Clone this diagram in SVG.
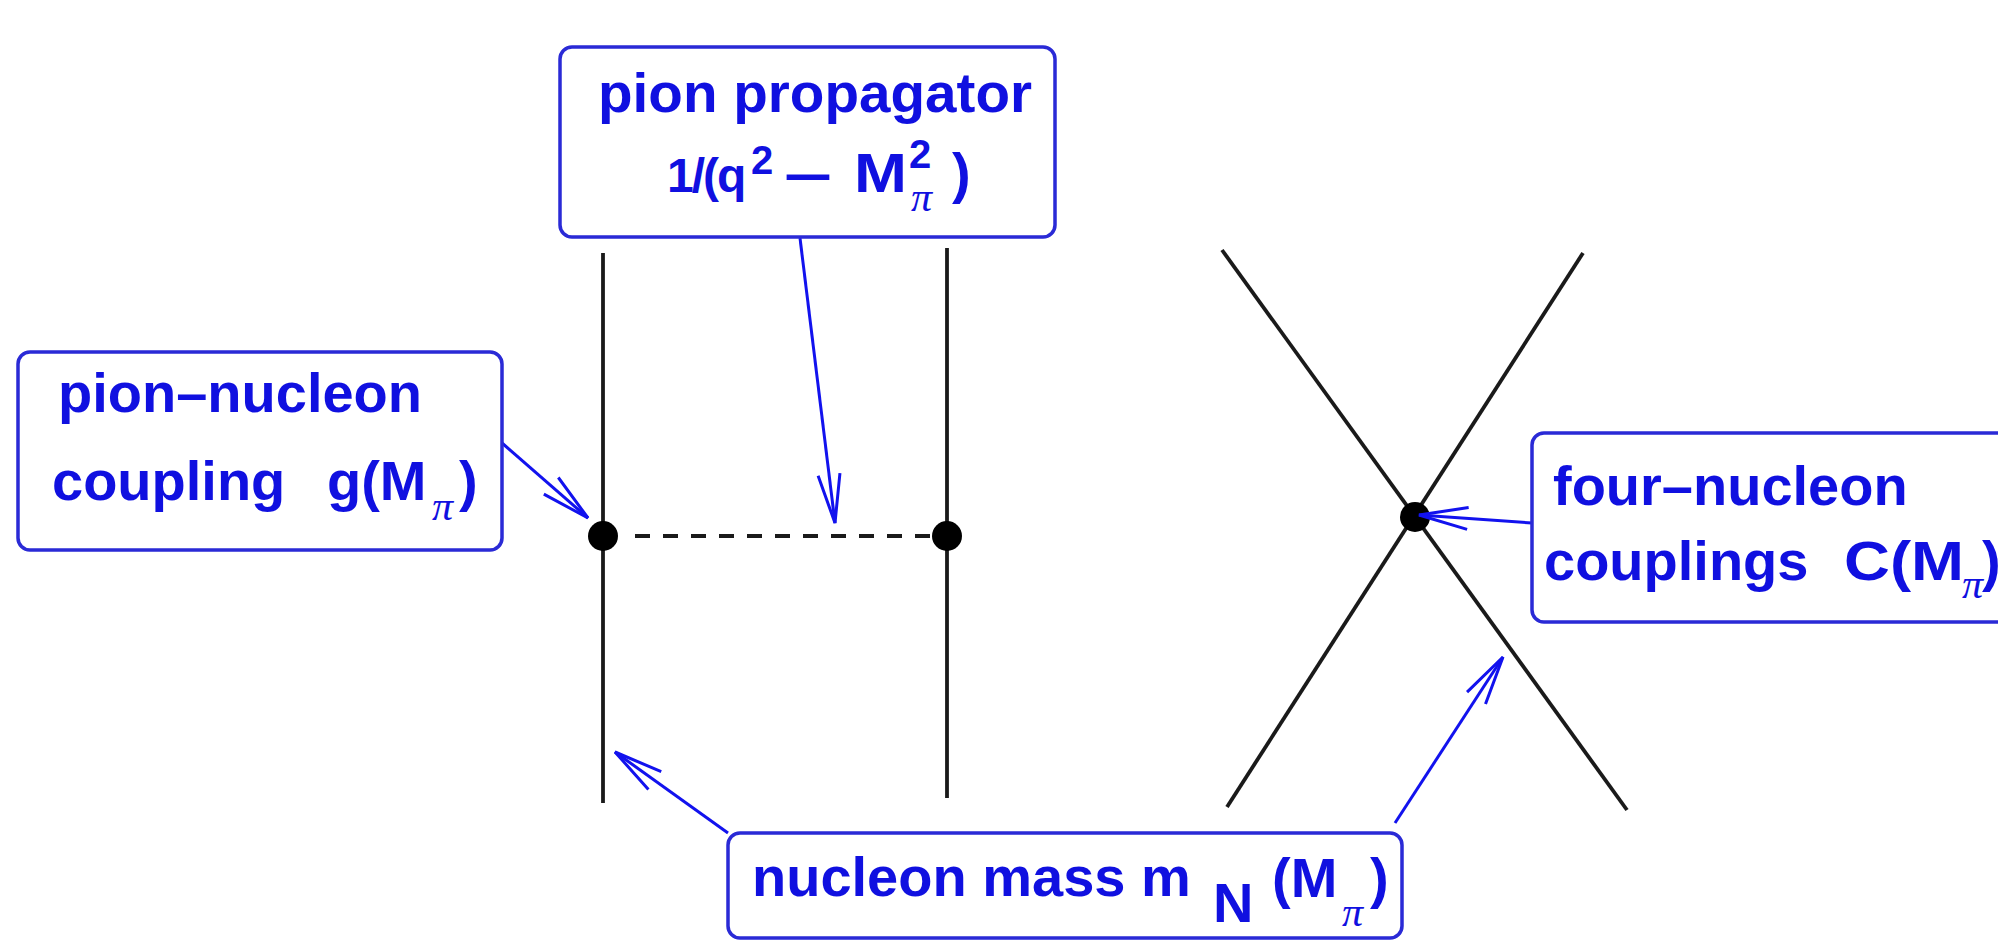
<svg xmlns="http://www.w3.org/2000/svg" width="1998" height="942" viewBox="0 0 1998 942">
<style>
.box{fill:#fff;stroke:#2a2ad6;stroke-width:3.5}
.t{font-family:"Liberation Sans",Arial,sans-serif;font-weight:bold;font-size:56px;fill:#1010e0}
.sup{font-size:40px}
.pi{font-family:"Liberation Serif","Times New Roman",serif;font-style:italic;font-weight:normal;font-size:42px}
.line{stroke:#1a1a1a;stroke-width:3.8;fill:none}
.arr{stroke:#1212ee;stroke-width:3;fill:none;marker-end:url(#head)}
</style>
<defs>
<marker id="head" markerUnits="userSpaceOnUse" orient="auto" refX="0" refY="0" markerWidth="60" markerHeight="30" viewBox="-55 -15 60 30" overflow="visible">
<path d="M-49,-11 L0,0 L-49,11" fill="none" stroke="#1212ee" stroke-width="3" stroke-linejoin="miter"/>
</marker>
</defs>
<rect width="1998" height="942" fill="#fff"/>

<g id="diagram-lines">
<line class="line" x1="603" y1="253" x2="603" y2="803"/>
<line class="line" x1="947" y1="248" x2="947" y2="798"/>
<line x1="635" y1="536" x2="932" y2="536" stroke="#1a1a1a" stroke-width="4" stroke-dasharray="15 13"/>
<circle cx="603" cy="536" r="15" fill="#000"/>
<circle cx="947" cy="536" r="15" fill="#000"/>
<line class="line" x1="1222" y1="250" x2="1627" y2="810"/>
<line class="line" x1="1583" y1="253" x2="1227" y2="807"/>
<circle cx="1415" cy="517" r="15" fill="#000"/>
</g>

<g id="connectors">
<line class="arr" x1="800" y1="238" x2="835" y2="523"/>
<line class="arr" x1="502" y1="443" x2="588" y2="518"/>
<line class="arr" x1="1532" y1="523" x2="1419" y2="515"/>
<line class="arr" x1="728" y1="833" x2="615" y2="752"/>
<line class="arr" x1="1395" y1="823" x2="1503" y2="657"/>
</g>

<g id="pion-propagator">
<rect class="box" x="560" y="47" width="495" height="190" rx="12"/>
<text class="t" x="598" y="112" textLength="434" lengthAdjust="spacingAndGlyphs">pion propagator</text>
<text class="t" y="192"><tspan x="667" font-size="48" letter-spacing="-2">1/(q</tspan><tspan class="sup" x="751" y="174">2</tspan><tspan x="784" y="192" textLength="48" lengthAdjust="spacingAndGlyphs">–</tspan><tspan x="854" y="192" textLength="53" lengthAdjust="spacingAndGlyphs">M</tspan><tspan class="sup" x="909" y="168">2</tspan><tspan class="pi" x="911" y="211" font-size="36">π</tspan><tspan x="952" y="192">)</tspan></text>
</g>

<g id="pion-nucleon-coupling">
<rect class="box" x="18" y="352" width="484" height="198" rx="12"/>
<text class="t" x="58" y="412">pion–nucleon</text>
<text class="t" y="500"><tspan x="52">coupling</tspan><tspan x="327">g(M</tspan><tspan class="pi" x="432" y="520">π</tspan><tspan x="459" y="500">)</tspan></text>
</g>

<g id="four-nucleon-couplings">
<rect class="box" x="1532" y="433" width="490" height="189" rx="12"/>
<text class="t" x="1553" y="505">four–nucleon</text>
<text class="t" y="580"><tspan x="1544">couplings</tspan><tspan x="1844" textLength="120" lengthAdjust="spacingAndGlyphs">C(M</tspan><tspan class="pi" x="1962" y="598">π</tspan><tspan x="1982" y="580">)</tspan></text>
</g>

<g id="nucleon-mass">
<rect class="box" x="728" y="833" width="674" height="105" rx="12"/>
<text class="t" y="896"><tspan x="752">nucleon mass m</tspan><tspan x="1213" y="922">N</tspan><tspan x="1272" y="897">(M</tspan><tspan class="pi" x="1342" y="926">π</tspan><tspan x="1370" y="897">)</tspan></text>
</g>
</svg>
